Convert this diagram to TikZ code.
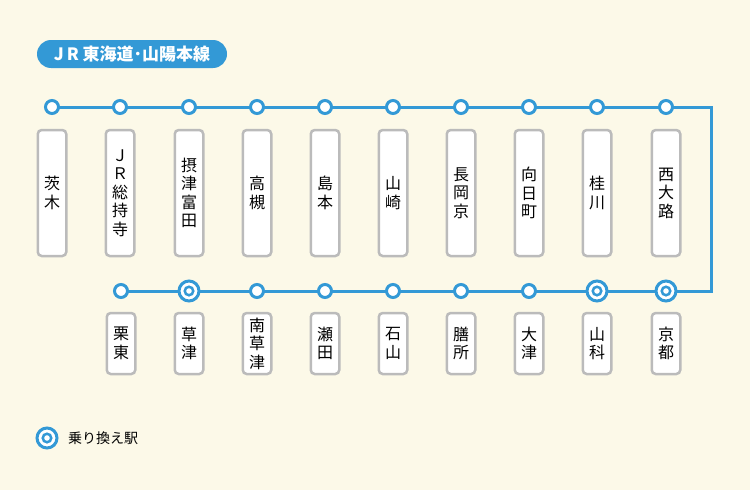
\documentclass[tikz,border=0pt]{standalone}
\usepackage{fontspec}
\newfontfamily\jpfont{Noto Sans CJK JP}
\definecolor{linecol}{HTML}{3399D6}
\definecolor{bgcol}{HTML}{FCF9E8}
\definecolor{boxcol}{HTML}{BBBBBB}
\tikzset{
  stop/.style={circle, draw=linecol, line width=3pt, fill=white, minimum size=13pt, inner sep=0pt},
  transfer/.style={stop, minimum size=20pt,
    append after command={node[circle, draw=linecol, line width=2.5pt, minimum size=8.5pt, inner sep=0pt] at (\tikzlastnode.center) {}}},
  namebox/.style={draw=boxcol, line width=2.5pt, fill=white, rounded corners=4pt,
    minimum width=28.5pt, inner sep=0pt, align=center},
  toplabel/.style={namebox, minimum height=126pt},
  botlabel/.style={namebox, minimum height=61pt}
}
\begin{document}
\begin{tikzpicture}[
  x=1pt,
  y=-1pt,
  font=\jpfont\fontsize{16}{18.5}\selectfont
]
\fill[bgcol] (0,0) rectangle (750,490);
\useasboundingbox (0,0) rectangle (750,490);

% title
\node[fill=linecol, text=white, rounded corners=14pt, minimum width=190pt, minimum height=28pt,
  inner sep=0pt, font=\jpfont\bfseries\fontsize{17}{19}\selectfont] (title) at (132,54) {J\kern3ptR 東海道･山陽本線};

% route line
\coordinate (ne) at (711,107);
\coordinate (se) at (711,291);

% upper row
\foreach \i/\x/\nm in {1/52/茨\\木, 2/120/Ｊ\\Ｒ\\総\\持\\寺, 3/189/摂\\津\\富\\田, 4/257/高\\槻,
  5/325/島\\本, 6/393/山\\崎, 7/461/長\\岡\\京, 8/529/向\\日\\町, 9/597/桂\\川, 10/666/西\\大\\路} {
  \coordinate (t\i) at (\x,107);
  \node[toplabel] (tl\i) at (\x,193) {\nm};
}

% lower row
\foreach \i/\x/\nm in {1/121/栗\\東, 2/189/草\\津, 3/257/南\\草\\津, 4/325/瀬\\田, 5/393/石\\山,
  6/461/膳\\所, 7/529/大\\津, 8/597/山\\科, 9/666/京\\都} {
  \coordinate (b\i) at (\x,291);
  \node[botlabel] (bl\i) at (\x,343.5) {\nm};
}

\draw[linecol, line width=3pt] (t1) -- (ne) -- (se) -- (b1);

\foreach \i in {1,...,10} \node[stop] (ts\i) at (t\i) {};
\foreach \i in {1,3,4,5,6,7} \node[stop] (bs\i) at (b\i) {};
\foreach \i in {2,8,9} \node[transfer] (bs\i) at (b\i) {};

% legend
\node[transfer] (key) at (47,438) {};
\node[anchor=west, font=\jpfont\fontsize{14}{16}\selectfont] (keytext) at ([xshift=6pt]key.east) {乗り換え駅};
\end{tikzpicture}
\end{document}
